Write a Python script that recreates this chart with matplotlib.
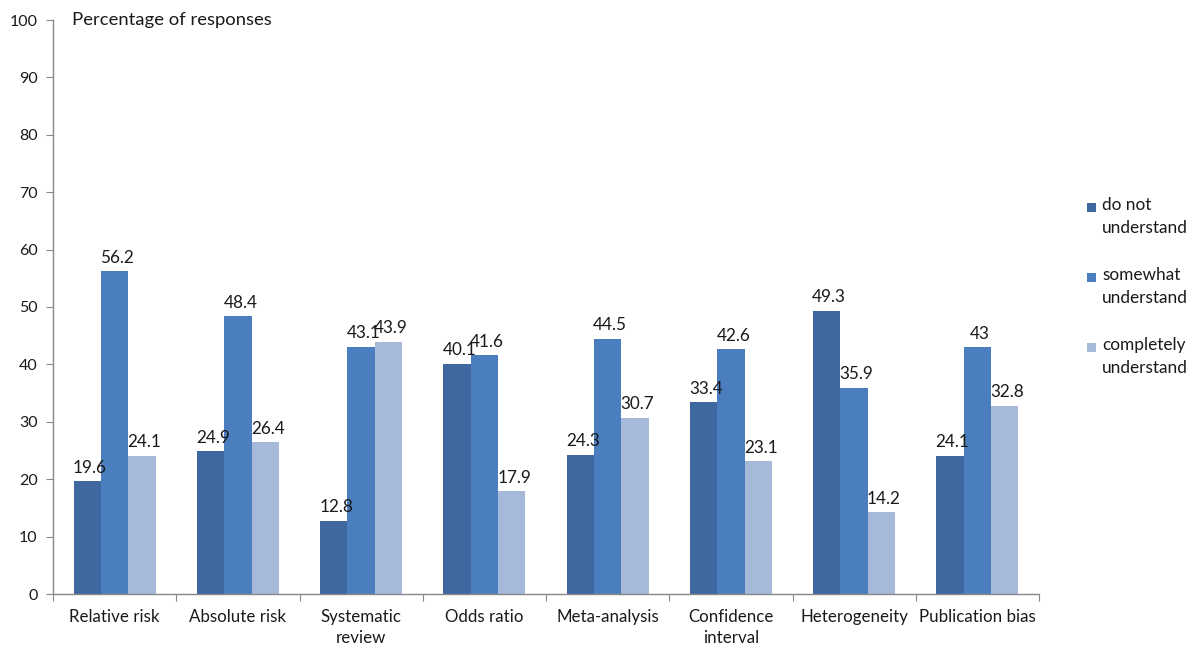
import matplotlib
matplotlib.use("Agg")
import matplotlib.pyplot as plt
import numpy as np
from matplotlib.patches import Rectangle

plt.rcParams['font.family'] = ['Lato', 'DejaVu Sans']

categories = ["Relative risk", "Absolute risk", "Systematic\nreview", "Odds ratio",
              "Meta-analysis", "Confidence\ninterval", "Heterogeneity", "Publication bias"]
do_not = [19.6, 24.9, 12.8, 40.1, 24.3, 33.4, 49.3, 24.1]
somewhat = [56.2, 48.4, 43.1, 41.6, 44.5, 42.6, 35.9, 43]
completely = [24.1, 26.4, 43.9, 17.9, 30.7, 23.1, 14.2, 32.8]
series_names = ["do not\nunderstand", "somewhat\nunderstand", "completely\nunderstand"]
colors = ["#3E689F", "#4A7EBE", "#A7B9D9"]
text_color = "#1a1a1a"

W, H = 1198, 649
fig = plt.figure(figsize=(W / 100, H / 100), dpi=100)
ax = fig.add_axes([53 / W, 55 / H, 986 / W, 574 / H])

x = np.arange(len(categories))
w = 0.222
for i, (vals, c) in enumerate(zip([do_not, somewhat, completely], colors)):
    pos = x + (i - 1) * w
    bars = ax.bar(pos, vals, width=w, color=c, edgecolor="none", zorder=2)
    for b, v in zip(bars, vals):
        ax.annotate(f"{v:g}", (b.get_x() + b.get_width() / 2 + 0.02, v),
                    xytext=(0, 4), textcoords="offset points",
                    ha="center", va="bottom", fontsize=12.3, color=text_color)

ax.set_xlim(-0.5, len(categories) - 0.5)
ax.set_ylim(0, 100)
ax.set_yticks(np.arange(0, 101, 10))
ax.set_xticks(np.arange(-0.5, len(categories), 1), minor=False)
ax.set_xticklabels([])
ax.set_xticks(x, minor=True)
ax.set_xticklabels(categories, minor=True, fontsize=12.2, color=text_color,
                   linespacing=1.35)
ax.tick_params(axis="x", which="minor", length=0, pad=11)
ax.tick_params(axis="x", which="major", length=5, direction="out", color="#888888")
ax.tick_params(axis="y", length=5, direction="out", color="#888888", labelsize=11.5,
               labelcolor=text_color, pad=6)
for s in ["top", "right"]:
    ax.spines[s].set_visible(False)
for s in ["left", "bottom"]:
    ax.spines[s].set_color("#888888")
    ax.spines[s].set_linewidth(1.0)

fig.text(72 / W, 1 - 20 / H, "Percentage of responses", fontsize=13.3,
         ha="left", va="center", color=text_color)

# Legend: swatch beside the first line of each two-line label
legend_rows = [207, 277, 347]
for name, c, yc in zip(series_names, colors, legend_rows):
    fig.patches.append(Rectangle((1087 / W, 1 - (yc + 5) / H), 9 / W, 9 / H,
                                 transform=fig.transFigure, facecolor=c,
                                 edgecolor="none"))
    fig.text(1102 / W, 1 - (yc - 10) / H, name, fontsize=12.4, ha="left", va="top",
             linespacing=1.55, color=text_color)

fig.savefig("out.png", dpi=100, facecolor="white")
